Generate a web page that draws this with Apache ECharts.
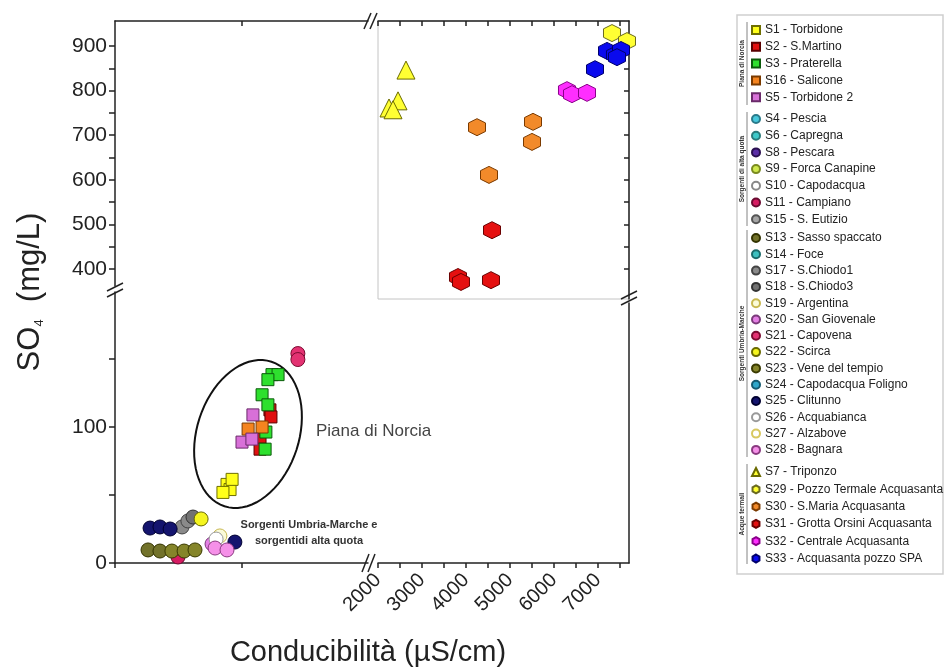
<!DOCTYPE html>
<html><head><meta charset="utf-8">
<script src="https://cdn.jsdelivr.net/npm/echarts@6/dist/echarts.min.js"></script>
<style>html,body{margin:0;padding:0;background:#fff}#c{width:945px;height:670px}</style>
</head><body><div id="c"></div><script>
const FONT = '"Liberation Sans", Arial, sans-serif';

// ---------- legend / series names ----------
const groupNorcia = ['S1 - Torbidone','S2 - S.Martino','S3 - Praterella','S16 - Salicone','S5 - Torbidone 2'];
const groupAlta = ['S4 - Pescia','S6 - Capregna','S8 - Pescara','S9 - Forca Canapine','S10 - Capodacqua','S11 - Campiano','S15 - S. Eutizio'];
const groupUM = ['S13 - Sasso spaccato','S14 - Foce','S17 - S.Chiodo1','S18 - S.Chiodo3','S19 - Argentina','S20 - San Giovenale','S21 - Capovena','S22 - Scirca','S23 - Vene del tempio','S24 - Capodacqua Foligno','S25 - Clitunno','S26 - Acquabianca','S27 - Alzabove','S28 - Bagnara'];
const groupTerm = ['S7 - Triponzo','S29 - Pozzo Termale Acquasanta','S30 - S.Maria Acquasanta','S31 - Grotta Orsini Acquasanta','S32 - Centrale Acquasanta','S33 - Acquasanta pozzo SPA'];
const groupLabels = ['Piana di Norcia','Sorgenti di alta quota','Sorgenti Umbria-Marche','Acque termali'];

// ---------- data: [conducibilità µS/cm, SO4 mg/L] ----------
// lower-left panel
const s1 = [[441,57.8],[453,54],[425,51.9],[461,61.5]];
const s2 = [[610,112.6],[614,107.4],[571,91],[571,83.7]];
const s3 = [[618,138.5],[642,138.5],[602,134.8],[579,123.7],[602,116.3],[594,96.3],[591,83.7]];
const s16 = [[524,98.5],[579,100]];
const s5 = [[543,108.9],[500,88.9],[539,91.1]];
const s11 = [[248,4.4]];
const s13 = [[130,9.6],[177,8.8]];
const s17 = [[264,26.5],[287,30.9]];
const s18 = [[307,33.8]];
const s19 = [[413,19.9]];
const s20 = [[382,14]];
const s21 = [[720,154],[720,149.6]];
const s22 = [[339,32.4]];
const s23 = [[224,8.8],[272,8.8],[315,9.6]];
const s25 = [[138,25.7],[177,26.5],[217,25],[472,15.4]];
const s26 = [[398,17.6]];
const s28 = [[394,11],[441,9.6]];
// upper-right (thermal waters) panel
const s7 = [[2636,846],[2455,777],[2250,761],[2341,757]];
const s29 = [[7318,929],[7659,911]];
const s30 = [[4250,718],[5523,730],[5500,685],[4523,611]];
const s31 = [[4591,487],[3818,382],[3886,371],[4568,375]];
const s32 = [[6295,801],[6409,792],[6750,795]];
const s33 = [[6932,848],[7205,889],[7386,880],[7523,891],[7432,875]];

// tick values
const yLowTicks = [0,50,100,150];
const yLowLabels = [0,100];
const yHighTicks = [400,450,500,550,600,650,700,750,800,850,900];
const yHighLabels = [400,500,600,700,800,900];
const xLowTicks = [0,500];
const xHighTicks = [2000,2500,3000,3500,4000,4500,5000,5500,6000,6500,7000,7500];
const xHighLabels = [2000,3000,4000,5000,6000,7000];

const dataByName = {
  'S1 - Torbidone': s1, 'S2 - S.Martino': s2, 'S3 - Praterella': s3, 'S16 - Salicone': s16, 'S5 - Torbidone 2': s5,
  'S11 - Campiano': s11, 'S13 - Sasso spaccato': s13, 'S17 - S.Chiodo1': s17, 'S18 - S.Chiodo3': s18,
  'S19 - Argentina': s19, 'S20 - San Giovenale': s20, 'S21 - Capovena': s21, 'S22 - Scirca': s22,
  'S23 - Vene del tempio': s23, 'S25 - Clitunno': s25, 'S26 - Acquabianca': s26, 'S28 - Bagnara': s28,
  'S7 - Triponzo': s7, 'S29 - Pozzo Termale Acquasanta': s29, 'S30 - S.Maria Acquasanta': s30,
  'S31 - Grotta Orsini Acquasanta': s31, 'S32 - Centrale Acquasanta': s32, 'S33 - Acquasanta pozzo SPA': s33
};

// ---------- styles ----------
const HEX = 'path://M0,-10L8.66,-5L8.66,5L0,10L-8.66,5L-8.66,-5Z';
const styleByName = {
  'S1 - Torbidone': ['rect','#ffff1a','#6e6e00'],
  'S2 - S.Martino': ['rect','#e01010','#5a0000'],
  'S3 - Praterella': ['rect','#2ee02e','#0a5a0a'],
  'S16 - Salicone': ['rect','#f5841f','#7a3a00'],
  'S5 - Torbidone 2': ['rect','#d870d8','#6a2a6a'],
  'S4 - Pescia': ['circle','#48c8dc','#2a7a8a'],
  'S6 - Capregna': ['circle','#3ec9c9','#2a7a7a'],
  'S8 - Pescara': ['circle','#5b2ea6','#2a1050'],
  'S9 - Forca Canapine': ['circle','#cfe84e','#7a8a20'],
  'S10 - Capodacqua': ['circle','#ffffff','#888888'],
  'S11 - Campiano': ['circle','#d61c62','#6a0a30'],
  'S15 - S. Eutizio': ['circle','#a6a6a6','#555555'],
  'S13 - Sasso spaccato': ['circle','#72722a','#333300'],
  'S14 - Foce': ['circle','#3cbfbf','#1a6a6a'],
  'S17 - S.Chiodo1': ['circle','#8a8a8a','#444444'],
  'S18 - S.Chiodo3': ['circle','#727272','#333333'],
  'S19 - Argentina': ['circle','#fbfbd8','#c8b850'],
  'S20 - San Giovenale': ['circle','#e47fe4','#7a3a7a'],
  'S21 - Capovena': ['circle','#e33272','#7a0a30'],
  'S22 - Scirca': ['circle','#f5f51f','#6a6a00'],
  'S23 - Vene del tempio': ['circle','#85852a','#3a3a00'],
  'S24 - Capodacqua Foligno': ['circle','#2fa7ca','#145a70'],
  'S25 - Clitunno': ['circle','#14146e','#000030'],
  'S26 - Acquabianca': ['circle','#ffffff','#999999'],
  'S27 - Alzabove': ['circle','#ffffff','#d8c860'],
  'S28 - Bagnara': ['circle','#f590e8','#8a3a80'],
  'S7 - Triponzo': ['triangle','#ffff33','#6a6a00'],
  'S29 - Pozzo Termale Acquasanta': [HEX,'#ffff33','#6a6a20'],
  'S30 - S.Maria Acquasanta': [HEX,'#f28a2a','#7a3a00'],
  'S31 - Grotta Orsini Acquasanta': [HEX,'#e51010','#6a0000'],
  'S32 - Centrale Acquasanta': [HEX,'#ff2eff','#8a008a'],
  'S33 - Acquasanta pozzo SPA': [HEX,'#0a0aee','#00006a']
};

// ---------- layout (pixels) ----------
const L = 115, R = 629, T = 21, B = 563;
const XBR_L = 368, XBR_R = 378;      // x break
const ULB = 286, LLT = 292;          // left y break
const URB = 299, LRT = 303;          // right y break
const yLowPx = 1.36;                 // px per mg/L (lower)
const yHighPx = 0.446, y400 = 269;   // px per mg/L (upper), pixel of 400
const xLowPx = 0.254;                // px per µS/cm (lower)
const xHighPx = 0.044;               // px per µS/cm (upper), 2000 at XBR_R

const yLowMaxLL = (B - LLT) / yLowPx;
const yLowMaxLR = (B - LRT) / yLowPx;
const yHighMax = 400 + (y400 - T) / yHighPx;
const yHighMinUL = 400 - (ULB - y400) / yHighPx;
const yHighMinUR = 400 - (URB - y400) / yHighPx;
const xLowMax = (XBR_L - L) / xLowPx;
const xHighMax = 2000 + (R - XBR_R) / xHighPx;

const AX = '#222';
const axLine = {show: true, onZero: false, lineStyle: {color: AX, width: 1.5}};

const allNames = groupNorcia.concat(groupAlta, groupUM, groupTerm);
const series = allNames.map(n => {
  const st = styleByName[n];
  const inset = groupTerm.indexOf(n) >= 0;
  let size = 14;
  if (st[0] === 'rect') size = 12;
  if (st[0] === 'triangle') size = 18;
  if (st[0] === HEX) size = 17;
  return {
    type: 'scatter', name: n, clip: false,
    xAxisIndex: inset ? 3 : 0, yAxisIndex: inset ? 3 : 0,
    data: dataByName[n] || [],
    symbol: st[0], symbolSize: size,
    itemStyle: {color: st[1], borderColor: st[2], borderWidth: 1, opacity: 1},
    emphasis: {disabled: true}, z: 5
  };
});

function mkLegend(data, top, gap) {
  return {
    data: data, orient: 'vertical', left: 751, top: top, padding: 0,
    itemWidth: 8, itemHeight: 8, itemGap: gap, selectedMode: false,
    textStyle: {fontSize: 12, lineHeight: 12, color: '#222', fontFamily: FONT}
  };
}

// ellipse annotation around Piana di Norcia
const ell = [];
(function () {
  const cx = 248, cy = 434, a = 76, b = 51, th = 18 * Math.PI / 180;
  const ux = Math.sin(th), uy = -Math.cos(th), vx = Math.cos(th), vy = Math.sin(th);
  for (let i = 0; i < 72; i++) {
    const t = i / 72 * 2 * Math.PI;
    ell.push([cx + b * Math.cos(t) * vx + a * Math.sin(t) * ux, cy + b * Math.cos(t) * vy + a * Math.sin(t) * uy]);
  }
})();

function brk(x1, y1, x2, y2, dx, dy) {
  return [
    {type: 'line', shape: {x1: x1, y1: y1, x2: x2, y2: y2}, style: {stroke: AX, lineWidth: 1.5}, z: 20},
    {type: 'line', shape: {x1: x1 + dx, y1: y1 + dy, x2: x2 + dx, y2: y2 + dy}, style: {stroke: AX, lineWidth: 1.5}, z: 20}
  ];
}

const groupSpans = [[22, 105], [112, 226], [230, 457], [464, 564]];
const groupLabelEls = [];
groupLabels.forEach((g, i) => {
  const s = groupSpans[i];
  groupLabelEls.push({type: 'line', shape: {x1: 747, y1: s[0], x2: 747, y2: s[1]}, style: {stroke: '#666', lineWidth: 0.8}});
  groupLabelEls.push({type: 'text', x: 742, y: (s[0] + s[1]) / 2, rotation: Math.PI / 2,
    style: {text: g, fontSize: 6.5, fontWeight: 'bold', fill: '#333', fontFamily: FONT, align: 'center', verticalAlign: 'middle'}});
});

const option = {
  backgroundColor: '#fff',
  animation: false,
  grid: [
    {left: L, top: LLT, width: XBR_L - L, height: B - LLT, show: false},
    {left: L, top: T, width: XBR_L - L, height: ULB - T, show: false},
    {left: XBR_R, top: LRT, width: R - XBR_R, height: B - LRT, show: false},
    {left: XBR_R, top: T, width: R - XBR_R, height: URB - T, show: true, borderColor: '#c4c4c4', borderWidth: 1, backgroundColor: 'transparent'}
  ],
  xAxis: [
    {gridIndex: 0, type: 'value', min: 0, max: xLowMax, position: 'bottom', axisLine: axLine,
     axisTick: {show: true, customValues: xLowTicks, length: 5, lineStyle: {color: AX, width: 1.5}},
     axisLabel: {show: false}, splitLine: {show: false}},
    {gridIndex: 1, type: 'value', min: 0, max: xLowMax, position: 'top', axisLine: axLine,
     axisTick: {show: true, customValues: [500], inside: true, length: 5, lineStyle: {color: AX, width: 1.5}},
     axisLabel: {show: false}, splitLine: {show: false}},
    {gridIndex: 2, type: 'value', min: 2000, max: xHighMax, position: 'bottom', axisLine: axLine,
     axisTick: {show: true, customValues: xHighTicks, length: 5, lineStyle: {color: AX, width: 1.5}},
     axisLabel: {show: true, customValues: xHighLabels, rotate: 45, fontSize: 20, color: '#222', fontFamily: FONT, margin: 14,
       formatter: v => String(v)},
     splitLine: {show: false}},
    {gridIndex: 3, type: 'value', min: 2000, max: xHighMax, position: 'top', axisLine: axLine,
     axisTick: {show: true, customValues: xHighTicks, inside: true, length: 5, lineStyle: {color: AX, width: 1.5}},
     axisLabel: {show: false}, splitLine: {show: false}}
  ],
  yAxis: [
    {gridIndex: 0, type: 'value', min: 0, max: yLowMaxLL, position: 'left', axisLine: axLine,
     axisTick: {show: true, customValues: yLowTicks, length: 6, lineStyle: {color: AX, width: 1.5}},
     axisLabel: {show: true, customValues: yLowLabels, fontSize: 21, color: '#222', fontFamily: FONT, margin: 8},
     splitLine: {show: false}},
    {gridIndex: 1, type: 'value', min: yHighMinUL, max: yHighMax, position: 'left', axisLine: axLine,
     axisTick: {show: true, customValues: yHighTicks, length: 6, lineStyle: {color: AX, width: 1.5}},
     axisLabel: {show: true, customValues: yHighLabels, fontSize: 21, color: '#222', fontFamily: FONT, margin: 8},
     splitLine: {show: false}},
    {gridIndex: 2, type: 'value', min: 0, max: yLowMaxLR, position: 'right', axisLine: axLine,
     axisTick: {show: false}, axisLabel: {show: false}, splitLine: {show: false}},
    {gridIndex: 3, type: 'value', min: yHighMinUR, max: yHighMax, position: 'right', axisLine: axLine,
     axisTick: {show: true, customValues: yHighTicks, inside: true, length: 5, lineStyle: {color: AX, width: 1.5}},
     axisLabel: {show: false}, splitLine: {show: false}}
  ],
  legend: [mkLegend(groupNorcia, 24, 4.8), mkLegend(groupAlta, 113, 4.7), mkLegend(groupUM, 232, 4.3), mkLegend(groupTerm, 466, 5.3)],
  series: series,
  graphic: [
    {type: 'rect', shape: {x: 737, y: 15, width: 206, height: 559}, style: {fill: 'none', stroke: '#cfcfcf', lineWidth: 1.5}, z: -1},
    ...groupLabelEls,
    {type: 'polygon', shape: {points: ell}, style: {fill: 'none', stroke: '#111', lineWidth: 2}, z: 4},
    {type: 'text', x: 316, y: 431, style: {text: 'Piana di Norcia', fontSize: 17, fill: '#444', fontFamily: FONT, verticalAlign: 'middle'}},
    {type: 'text', x: 309, y: 525, style: {text: 'Sorgenti Umbria-Marche e', fontSize: 11, fontWeight: 'bold', fill: '#333', fontFamily: FONT, align: 'center', verticalAlign: 'middle'}},
    {type: 'text', x: 309, y: 541, style: {text: 'sorgentidi alta quota', fontSize: 11, fontWeight: 'bold', fill: '#333', fontFamily: FONT, align: 'center', verticalAlign: 'middle'}},
    {type: 'text', x: 368, y: 653, style: {text: 'Conducibilità (µS/cm)', fontSize: 29, fill: '#222', fontFamily: FONT, align: 'center', verticalAlign: 'middle'}},
    {type: 'text', x: 30, y: 292, rotation: Math.PI / 2,
     style: {text: '{a|SO}{b|4}{a|  (mg/L)}', fill: '#222', align: 'center', verticalAlign: 'middle',
       rich: {a: {fontSize: 31, fontFamily: FONT, fill: '#222', verticalAlign: 'bottom'}, b: {fontSize: 13, fontFamily: FONT, fill: '#222', verticalAlign: 'bottom'}}}},
    ...brk(364, 29, 371, 13, 6, 0),
    ...brk(362, 572, 369, 554, 6, 0),
    ...brk(107, 291, 123, 283, 0, 6),
    ...brk(621, 299, 637, 291, 0, 6)
  ]
};

const chart = echarts.init(document.getElementById('c'), null, {renderer: 'canvas'});
chart.setOption(option);
</script></body></html>
